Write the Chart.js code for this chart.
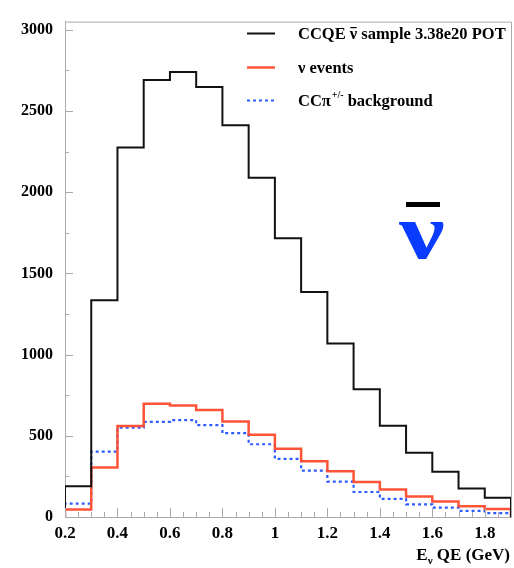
<!DOCTYPE html>
<html>
<head>
<meta charset="utf-8">
<script src="https://cdn.jsdelivr.net/npm/chart.js@4.4.0/dist/chart.umd.min.js"></script>
<style>
  html, body { margin: 0; padding: 0; background: #fff; }
  #wrap { width: 514px; height: 568px; }
</style>
</head>
<body>
<div id="wrap"><canvas id="ctx"></canvas></div>
<script>
// bin edges 0.2 .. 1.9 GeV, width 0.1
const binEdges = [0.2, 0.3, 0.4, 0.5, 0.6, 0.7, 0.8, 0.9, 1.0, 1.1, 1.2, 1.3, 1.4, 1.5, 1.6, 1.7, 1.8, 1.9];
const ccqeSample = [190, 1335, 2275, 2690, 2740, 2648, 2412, 2088, 1716, 1386, 1068, 786, 562, 396, 278, 176, 118];
const nuEvents = [46, 304, 560, 698, 686, 658, 588, 506, 420, 344, 282, 216, 170, 126, 96, 66, 50];
const ccPiBkg = [82, 402, 550, 586, 596, 566, 516, 448, 358, 286, 218, 154, 112, 78, 58, 38, 24];

const xTicks = [0.2, 0.4, 0.6, 0.8, 1.0, 1.2, 1.4, 1.6, 1.8];
const yTicks = [0, 500, 1000, 1500, 2000, 2500, 3000];

const seriesNames = ['CCQE', 'ν events', 'CCπ'];

const serif = '"Liberation Serif", "DejaVu Serif", serif';

// histogram outline: drop to zero at both ends
function histPoints(vals) {
    let pts = [{x: binEdges[0], y: 0}];
    vals.forEach((v, i) => pts.push({x: binEdges[i], y: v}));
    pts.push({x: binEdges[binEdges.length - 1], y: vals[vals.length - 1]});
    pts.push({x: binEdges[binEdges.length - 1], y: 0});
    return pts;
}

// inward ticks, ROOT style
const innerTicks = {
    id: 'innerTicks',
    afterDatasetsDraw(chart) {
        const c = chart.ctx, xs = chart.scales.x, ys = chart.scales.y;
        const area = chart.chartArea;
        c.save();
        c.strokeStyle = '#aaa';
        c.lineWidth = 1;
        c.beginPath();
        for (let v = 0.2; v <= 1.9001; v += 0.05) {
            let px = Math.round(xs.getPixelForValue(v)) + 0.5;
            let major = Math.abs(v * 5 - Math.round(v * 5)) < 1e-6;
            c.moveTo(px, area.bottom);
            c.lineTo(px, area.bottom - (major ? 9 : 5));
        }
        for (let v = 0; v <= 3000; v += 250) {
            let py = Math.round(ys.getPixelForValue(v)) + 0.5;
            let major = v % 500 === 0;
            c.moveTo(area.left, py);
            c.lineTo(area.left + (major ? 8 : 4), py);
        }
        c.stroke();
        // frame top / right
        c.beginPath();
        c.moveTo(area.left, area.top + 0.5);
        c.lineTo(area.right + 0.5, area.top + 0.5);
        c.lineTo(area.right + 0.5, area.bottom);
        c.stroke();
        c.restore();
    }
};

// legend, axis title and the big anti-neutrino symbol
const annotations = {
    id: 'annotations',
    afterDraw(chart) {
        const c = chart.ctx;
        const ds = chart.data.datasets;
        c.save();
        c.textBaseline = 'alphabetic';
        c.fillStyle = '#000';
        const rows = [33, 67, 100];
        ds.forEach((d, i) => {
            c.beginPath();
            c.strokeStyle = d.borderColor;
            c.lineWidth = d.borderWidth;
            c.setLineDash(d.borderDash || []);
            c.moveTo(247, rows[i] + 0.5);
            c.lineTo(275, rows[i] + 0.5);
            c.stroke();
        });
        c.setLineDash([]);
        c.font = 'bold 16.5px ' + serif;
        // entry 1
        let x = 298, y = rows[0] + 6;
        c.fillText('CCQE ', x, y);
        x += c.measureText('CCQE ').width;
        let nuW = c.measureText('ν').width;
        c.fillText('ν', x, y);
        c.fillRect(x + 0.5, y - 12, nuW - 1, 1.2);
        x += nuW;
        c.fillText(' sample 3.38e20 POT', x, y);
        // entry 2
        c.fillText(seriesNames[1], 298, rows[1] + 6);
        // entry 3
        x = 298; y = rows[2] + 6;
        c.fillText('CCπ', x, y);
        x += c.measureText('CCπ').width;
        c.font = 'bold 10px ' + serif;
        c.fillText('+/-', x + 1, y - 8);
        x += c.measureText('+/-').width + 5;
        c.font = 'bold 16.5px ' + serif;
        c.fillText('background', x, y);

        // x axis title, right aligned
        let parts = [['E', 17, 0], ['ν', 11, 4], [' QE (GeV)', 17, 0]];
        let total = 0;
        parts.forEach(p => { c.font = 'bold ' + p[1] + 'px ' + serif; total += c.measureText(p[0]).width; });
        x = 510 - total;
        parts.forEach(p => {
            c.font = 'bold ' + p[1] + 'px ' + serif;
            c.fillText(p[0], x, 560 + p[2]);
            x += c.measureText(p[0]).width;
        });

        // big anti-nu
        c.save();
        c.translate(422, 258);
        c.scale(1.29, 1);
        c.fillStyle = '#0a3cff';
        c.font = 'bold 79px ' + serif;
        c.textAlign = 'center';
        c.fillText('ν', 0, 0);
        c.restore();
        c.fillStyle = '#000';
        c.fillRect(406, 202, 34, 5);
        c.restore();
    }
};

const mychart = document.getElementById('ctx');
const myChart = new Chart(mychart, {
    type: 'line',
    data: {
        datasets: [{
            label: seriesNames[0],
            data: histPoints(ccqeSample),
            borderColor: '#111',
            borderWidth: 2,
            stepped: 'before',
            pointRadius: 0,
            fill: false
        }, {
            label: seriesNames[1],
            data: histPoints(nuEvents),
            borderColor: 'rgba(255, 75, 45, 0.95)',
            borderWidth: 2.5,
            stepped: 'before',
            pointRadius: 0,
            fill: false
        }, {
            label: seriesNames[2],
            data: histPoints(ccPiBkg),
            borderColor: '#2f5cff',
            borderWidth: 2.2,
            borderDash: [3, 3],
            stepped: 'before',
            pointRadius: 0,
            fill: false
        }]
    },
    options: {
        responsive: true,
        maintainAspectRatio: false,
        animation: false,
        layout: { padding: { top: 8, right: 3, left: 0, bottom: 0 } },
        plugins: {
            legend: { display: false },
            tooltip: { enabled: false }
        },
        scales: {
            x: {
                type: 'linear',
                min: 0.2,
                max: 1.9,
                afterBuildTicks: s => { s.ticks = xTicks.map(v => ({value: v})); },
                afterFit: s => { s.height = 51; },
                grid: { drawOnChartArea: false, drawTicks: false },
                border: { color: '#aaa', width: 1 },
                ticks: {
                    padding: 6,
                    color: '#000',
                    maxRotation: 0,
                    font: { family: serif, size: 17, weight: 'bold' },
                    callback: v => String(Number(v.toFixed(1)))
                }
            },
            y: {
                min: 0,
                max: 3050,
                afterBuildTicks: s => { s.ticks = yTicks.map(v => ({value: v})); },
                afterFit: s => { s.width = 65; },
                grid: { drawOnChartArea: false, drawTicks: false },
                border: { color: '#aaa', width: 1 },
                ticks: {
                    padding: 12,
                    color: '#000',
                    font: { family: serif, size: 16, weight: 'bold' },
                    callback: v => String(v)
                }
            }
        }
    },
    plugins: [innerTicks, annotations]
});
</script>
</body>
</html>
